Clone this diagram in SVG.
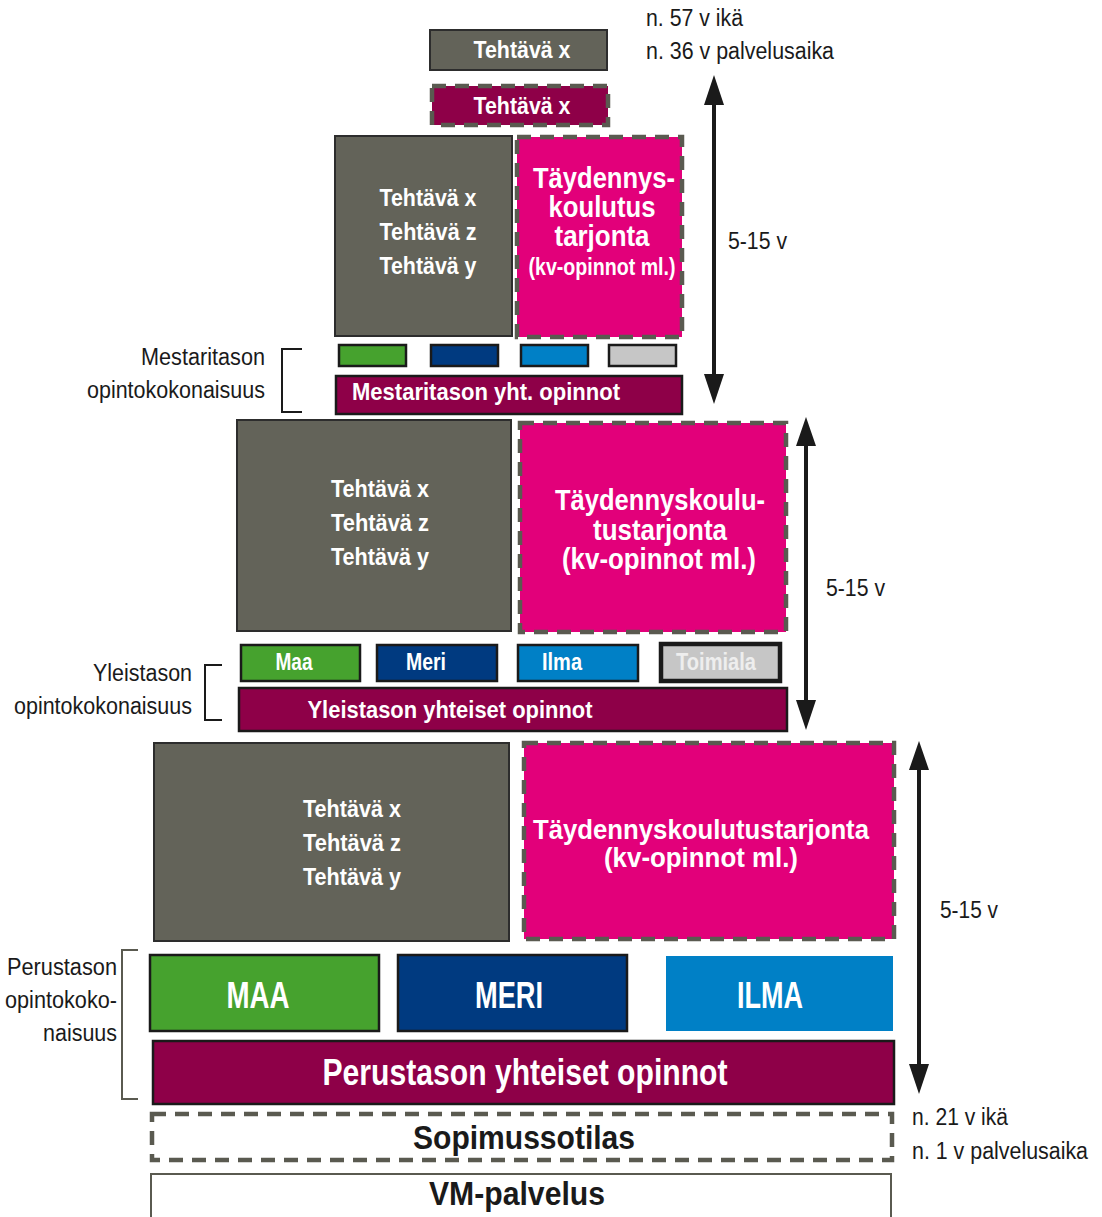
<svg xmlns="http://www.w3.org/2000/svg" width="1102" height="1217" viewBox="0 0 1102 1217">
<defs>
<style>
text{font-family:"Liberation Sans","Arial",sans-serif;}
.b{font-weight:bold;fill:#fff;text-anchor:middle;dominant-baseline:central;}
.k{font-weight:bold;fill:#1a1a1a;text-anchor:middle;dominant-baseline:central;}
.n{fill:#1a1a1a;font-size:23px;dominant-baseline:central;}
.gray{fill:#636359;stroke:#2d2d2d;stroke-width:2;}
.pink{fill:#e2007a;stroke:#5a5a50;stroke-width:4.5;stroke-dasharray:14 9;}
.mar{fill:#8e0048;stroke:#1a1a1a;stroke-width:2.5;}
.g{fill:#46a22e;stroke:#1a1a1a;stroke-width:2.5;}
.db{fill:#003a80;stroke:#1a1a1a;stroke-width:2.5;}
.lb{fill:#0080c6;stroke:#1a1a1a;stroke-width:2.5;}
.lg{fill:#c6c6c6;stroke:#1a1a1a;stroke-width:2.5;}
.br{fill:none;stroke:#1a1a1a;stroke-width:2;}
.ar{stroke:#1a1a1a;stroke-width:4;fill:none;}
.ah{fill:#1a1a1a;}
</style>
</defs>

<g id="top-task">
<rect class="gray" x="430" y="30" width="177" height="40"/>
<text class="b" x="522" y="50" font-size="23" textLength="97" lengthAdjust="spacingAndGlyphs">Tehtävä x</text>
</g>
<g id="top-task-dashed">
<rect x="432" y="86" width="176" height="39" fill="#8e0048" stroke="#5a5a50" stroke-width="4.5" stroke-dasharray="14 9"/>
<text class="b" x="522" y="106" font-size="23" textLength="97" lengthAdjust="spacingAndGlyphs">Tehtävä x</text>
</g>
<g id="top-labels">
<text class="n" x="646" y="18" textLength="97" lengthAdjust="spacingAndGlyphs">n. 57 v ikä</text>
<text class="n" x="646" y="51" textLength="188" lengthAdjust="spacingAndGlyphs">n. 36 v palvelusaika</text>
</g>

<g id="l3-tasks">
<rect class="gray" x="335" y="136" width="177" height="200"/>
<text class="b" x="428" y="197" font-size="24" textLength="97" lengthAdjust="spacingAndGlyphs">Tehtävä x</text>
<text class="b" x="428" y="231" font-size="24" textLength="97" lengthAdjust="spacingAndGlyphs">Tehtävä z</text>
<text class="b" x="428" y="265" font-size="24" textLength="97" lengthAdjust="spacingAndGlyphs">Tehtävä y</text>
</g>
<g id="l3-training">
<rect class="pink" x="517" y="137" width="165" height="200"/>
<text class="b" x="604" y="178" font-size="29" textLength="142" lengthAdjust="spacingAndGlyphs">Täydennys-</text>
<text class="b" x="602" y="207" font-size="29" textLength="107" lengthAdjust="spacingAndGlyphs">koulutus</text>
<text class="b" x="602" y="236" font-size="29" textLength="95" lengthAdjust="spacingAndGlyphs">tarjonta</text>
<text class="b" x="602" y="267" font-size="23" textLength="147" lengthAdjust="spacingAndGlyphs">(kv-opinnot ml.)</text>
</g>
<g id="l3-branches">
<rect class="g" x="339" y="345" width="67" height="21"/>
<rect class="db" x="431" y="345" width="67" height="21"/>
<rect class="lb" x="521" y="345" width="67" height="21"/>
<rect class="lg" x="609" y="345" width="67" height="21"/>
</g>
<g id="l3-common">
<rect class="mar" x="336" y="376" width="346" height="38"/>
<text class="b" x="486" y="391" font-size="24" textLength="268" lengthAdjust="spacingAndGlyphs">Mestaritason yht. opinnot</text>
</g>
<g id="l3-label">
<path class="br" d="M302,349 H282 V412 H302"/>
<text class="n" x="265" y="357" text-anchor="end" textLength="124" lengthAdjust="spacingAndGlyphs">Mestaritason</text>
<text class="n" x="265" y="390" text-anchor="end" textLength="178" lengthAdjust="spacingAndGlyphs">opintokokonaisuus</text>
</g>

<g id="l2-tasks">
<rect class="gray" x="237" y="420" width="274" height="211"/>
<text class="b" x="380" y="488" font-size="24" textLength="98" lengthAdjust="spacingAndGlyphs">Tehtävä x</text>
<text class="b" x="380" y="522" font-size="24" textLength="98" lengthAdjust="spacingAndGlyphs">Tehtävä z</text>
<text class="b" x="380" y="556" font-size="24" textLength="98" lengthAdjust="spacingAndGlyphs">Tehtävä y</text>
</g>
<g id="l2-training">
<rect class="pink" x="520" y="423" width="266" height="209"/>
<text class="b" x="660" y="500" font-size="29" textLength="210" lengthAdjust="spacingAndGlyphs">Täydennyskoulu-</text>
<text class="b" x="660" y="530" font-size="29" textLength="134" lengthAdjust="spacingAndGlyphs">tustarjonta</text>
<text class="b" x="659" y="559" font-size="29" textLength="194" lengthAdjust="spacingAndGlyphs">(kv-opinnot ml.)</text>
</g>
<g id="l2-branches">
<rect class="g" x="241" y="645" width="119" height="36"/>
<text class="b" x="294" y="662" font-size="23" textLength="37" lengthAdjust="spacingAndGlyphs">Maa</text>
<rect class="db" x="377" y="645" width="120" height="36"/>
<text class="b" x="426" y="662" font-size="23" textLength="40" lengthAdjust="spacingAndGlyphs">Meri</text>
<rect class="lb" x="518" y="645" width="120" height="36"/>
<text class="b" x="562" y="662" font-size="23" textLength="40" lengthAdjust="spacingAndGlyphs">Ilma</text>
<rect x="661" y="644" width="119" height="37" fill="#c6c6c6" stroke="#1a1a1a" stroke-width="4.5"/>
<text class="b" x="716" y="662" font-size="23" style="fill:#eeeeee" textLength="80" lengthAdjust="spacingAndGlyphs">Toimiala</text>
</g>
<g id="l2-common">
<rect class="mar" x="239" y="688" width="548" height="43"/>
<text class="b" x="450" y="709" font-size="24" textLength="285" lengthAdjust="spacingAndGlyphs">Yleistason yhteiset opinnot</text>
</g>
<g id="l2-label">
<path class="br" d="M222,665 H205 V720 H222"/>
<text class="n" x="192" y="673" text-anchor="end" textLength="99" lengthAdjust="spacingAndGlyphs">Yleistason</text>
<text class="n" x="192" y="706" text-anchor="end" textLength="178" lengthAdjust="spacingAndGlyphs">opintokokonaisuus</text>
</g>

<g id="l1-tasks">
<rect class="gray" x="154" y="743" width="355" height="198"/>
<text class="b" x="352" y="808" font-size="24" textLength="98" lengthAdjust="spacingAndGlyphs">Tehtävä x</text>
<text class="b" x="352" y="842" font-size="24" textLength="98" lengthAdjust="spacingAndGlyphs">Tehtävä z</text>
<text class="b" x="352" y="876" font-size="24" textLength="98" lengthAdjust="spacingAndGlyphs">Tehtävä y</text>
</g>
<g id="l1-training">
<rect class="pink" x="524" y="743" width="370" height="196"/>
<text class="b" x="701" y="829" font-size="28" textLength="336" lengthAdjust="spacingAndGlyphs">Täydennyskoulutustarjonta</text>
<text class="b" x="701" y="857" font-size="28" textLength="194" lengthAdjust="spacingAndGlyphs">(kv-opinnot ml.)</text>
</g>
<g id="l1-branches">
<rect class="g" x="150" y="955" width="229" height="76"/>
<text class="b" x="258" y="995" font-size="37" textLength="63" lengthAdjust="spacingAndGlyphs">MAA</text>
<rect class="db" x="398" y="955" width="229" height="76"/>
<text class="b" x="509" y="995" font-size="37" textLength="68" lengthAdjust="spacingAndGlyphs">MERI</text>
<rect x="666" y="956" width="227" height="75" fill="#0080c6"/>
<text class="b" x="770" y="995" font-size="37" textLength="66" lengthAdjust="spacingAndGlyphs">ILMA</text>
</g>
<g id="l1-common">
<rect class="mar" x="153" y="1041" width="741" height="63"/>
<text class="b" x="525" y="1072" font-size="37" textLength="405" lengthAdjust="spacingAndGlyphs">Perustason yhteiset opinnot</text>
</g>
<g id="l1-label">
<path d="M138,950 H122 V1099 H138" fill="none" stroke="#5a5a50" stroke-width="2"/>
<text class="n" x="117" y="967" text-anchor="end" textLength="110" lengthAdjust="spacingAndGlyphs">Perustason</text>
<text class="n" x="117" y="1000" text-anchor="end" textLength="112" lengthAdjust="spacingAndGlyphs">opintokoko-</text>
<text class="n" x="117" y="1033" text-anchor="end" textLength="74" lengthAdjust="spacingAndGlyphs">naisuus</text>
</g>

<g id="contract">
<rect x="152" y="1114" width="740" height="46" fill="#fff" stroke="#5a5a50" stroke-width="4.5" stroke-dasharray="14 9"/>
<text class="k" x="524" y="1137" font-size="34" textLength="222" lengthAdjust="spacingAndGlyphs">Sopimussotilas</text>
</g>
<g id="conscript">
<rect x="151" y="1174" width="740" height="60" fill="#fff" stroke="#5a5a50" stroke-width="2"/>
<text class="k" x="517" y="1193" font-size="34" textLength="176" lengthAdjust="spacingAndGlyphs">VM-palvelus</text>
</g>
<g id="bottom-labels">
<text class="n" x="912" y="1117" textLength="96" lengthAdjust="spacingAndGlyphs">n. 21 v ikä</text>
<text class="n" x="912" y="1151" textLength="176" lengthAdjust="spacingAndGlyphs">n. 1 v palvelusaika</text>
</g>

<g id="connectors">
<line class="ar" x1="714" y1="100" x2="714" y2="380"/>
<polygon class="ah" points="714,75 724,105 704,105"/>
<polygon class="ah" points="714,404 724,374 704,374"/>
<line class="ar" x1="806" y1="440" x2="806" y2="706"/>
<polygon class="ah" points="806,417 816,446 796,446"/>
<polygon class="ah" points="806,730 816,700 796,700"/>
<line class="ar" x1="919" y1="764" x2="919" y2="1070"/>
<polygon class="ah" points="919,741 929,770 909,770"/>
<polygon class="ah" points="919,1094 929,1064 909,1064"/>
<text class="n" x="728" y="241" textLength="59" lengthAdjust="spacingAndGlyphs">5-15 v</text>
<text class="n" x="826" y="588" textLength="59" lengthAdjust="spacingAndGlyphs">5-15 v</text>
<text class="n" x="940" y="910" textLength="58" lengthAdjust="spacingAndGlyphs">5-15 v</text>
</g>
</svg>
